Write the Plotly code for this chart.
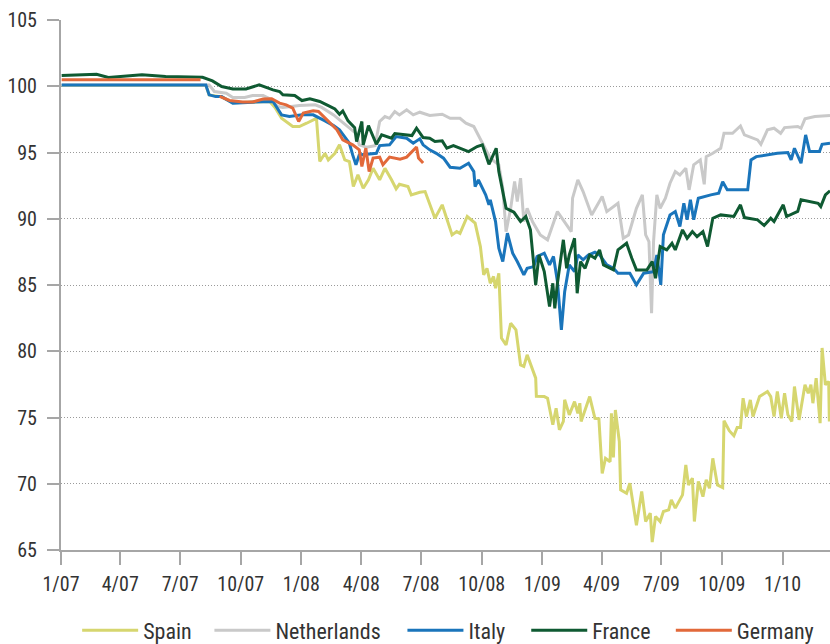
import plotly.graph_objects as go

# ---- data (index) ----
spain = [
    ("2007-01-02", 100.05), ("2007-08-09", 100.05), ("2007-08-14", 99.35), ("2007-09-02", 99.2),
    ("2007-09-19", 98.75), ("2007-10-19", 98.8), ("2007-11-14", 98.85), ("2007-11-22", 98.4),
    ("2007-12-02", 97.58), ("2007-12-19", 96.96), ("2007-12-29", 96.96), ("2008-01-09", 97.21),
    ("2008-01-24", 97.58), ("2008-01-29", 94.32), ("2008-02-06", 94.94), ("2008-02-11", 94.44),
    ("2008-02-21", 94.94), ("2008-02-28", 95.58), ("2008-03-07", 94.44), ("2008-03-14", 94.32),
    ("2008-03-20", 92.43), ("2008-03-27", 93.31), ("2008-04-04", 92.3), ("2008-04-12", 92.94),
    ("2008-04-19", 93.81), ("2008-04-29", 92.94), ("2008-05-07", 93.81), ("2008-05-17", 92.94),
    ("2008-05-24", 92.26), ("2008-05-29", 92.6), ("2008-06-11", 92.43), ("2008-06-16", 91.8),
    ("2008-06-29", 92.0), ("2008-07-07", 92.05), ("2008-07-22", 90.04), ("2008-08-02", 91.05),
    ("2008-08-17", 88.78), ("2008-08-24", 89.03), ("2008-08-29", 88.9), ("2008-09-09", 90.17),
    ("2008-09-21", 89.67), ("2008-09-29", 87.9), ("2008-10-04", 85.76), ("2008-10-09", 86.26),
    ("2008-10-14", 85.13), ("2008-10-19", 85.64), ("2008-10-22", 84.76), ("2008-10-27", 85.89),
    ("2008-10-31", 81.0), ("2008-11-07", 80.48), ("2008-11-14", 82.11), ("2008-11-22", 81.61),
    ("2008-11-29", 78.97), ("2008-12-04", 78.85), ("2008-12-09", 79.73), ("2008-12-22", 77.97),
    ("2008-12-23", 76.6), ("2009-01-04", 76.58), ("2009-01-09", 76.46), ("2009-01-17", 74.45),
    ("2009-01-22", 75.7), ("2009-01-27", 74.07), ("2009-02-02", 74.7), ("2009-02-04", 76.34),
    ("2009-02-11", 75.2), ("2009-02-19", 76.2), ("2009-02-24", 75.32), ("2009-02-27", 76.08),
    ("2009-03-01", 74.7), ("2009-03-14", 76.58), ("2009-03-22", 74.94), ("2009-03-28", 74.9),
    ("2009-04-02", 70.78), ("2009-04-07", 71.92), ("2009-04-14", 71.66), ("2009-04-16", 75.32),
    ("2009-04-19", 71.98), ("2009-04-22", 75.57), ("2009-04-28", 73.18), ("2009-04-30", 69.54),
    ("2009-05-09", 69.28), ("2009-05-14", 70.04), ("2009-05-24", 66.87), ("2009-06-01", 69.41),
    ("2009-06-07", 67.15), ("2009-06-14", 67.78), ("2009-06-17", 65.59), ("2009-06-22", 67.53),
    ("2009-06-29", 67.15), ("2009-07-04", 67.91), ("2009-07-12", 68.03), ("2009-07-16", 68.79),
    ("2009-07-22", 68.16), ("2009-08-02", 69.16), ("2009-08-07", 71.42), ("2009-08-11", 69.91),
    ("2009-08-17", 70.42), ("2009-08-20", 67.15), ("2009-08-26", 70.17), ("2009-09-02", 69.03),
    ("2009-09-07", 70.29), ("2009-09-12", 69.66), ("2009-09-17", 71.92), ("2009-09-24", 69.91),
    ("2009-10-02", 69.71), ("2009-10-04", 74.76), ("2009-10-12", 74.0), ("2009-10-19", 73.62),
    ("2009-10-24", 74.25), ("2009-10-29", 74.25), ("2009-11-02", 76.46), ("2009-11-07", 75.07),
    ("2009-11-13", 76.33), ("2009-11-17", 75.07), ("2009-11-27", 76.58), ("2009-12-09", 76.96),
    ("2009-12-14", 76.58), ("2009-12-19", 75.07), ("2009-12-24", 76.96), ("2009-12-30", 74.94),
    ("2010-01-04", 76.83), ("2010-01-09", 75.2), ("2010-01-15", 74.7), ("2010-01-19", 77.34),
    ("2010-01-26", 74.82), ("2010-02-04", 77.47), ("2010-02-09", 76.83), ("2010-02-13", 77.47),
    ("2010-02-16", 76.08), ("2010-02-21", 77.97), ("2010-02-27", 74.57), ("2010-03-02", 80.25),
    ("2010-03-07", 77.47), ("2010-03-12", 77.72), ("2010-03-13", 74.7),
]

netherlands = [
    ("2007-01-02", 100.1), ("2007-08-14", 100.1), ("2007-08-22", 99.6), ("2007-09-09", 99.47),
    ("2007-09-19", 99.15), ("2007-10-07", 99.15), ("2007-10-19", 99.3), ("2007-11-04", 99.3),
    ("2007-11-14", 99.05), ("2007-11-26", 98.47), ("2007-12-04", 98.4), ("2007-12-29", 98.54),
    ("2008-01-22", 98.6), ("2008-02-01", 98.4), ("2008-02-19", 97.84), ("2008-03-09", 97.09),
    ("2008-03-24", 96.45), ("2008-03-29", 95.58), ("2008-04-09", 95.4), ("2008-04-22", 95.52),
    ("2008-04-29", 97.34), ("2008-05-07", 97.71), ("2008-05-14", 97.58), ("2008-05-22", 98.09),
    ("2008-05-29", 97.84), ("2008-06-09", 98.22), ("2008-06-19", 97.84), ("2008-06-29", 98.04),
    ("2008-07-14", 97.79), ("2008-08-02", 97.89), ("2008-08-14", 97.58), ("2008-08-29", 97.58),
    ("2008-09-07", 97.21), ("2008-09-19", 96.96), ("2008-10-02", 95.7), ("2008-10-14", 94.57),
    ("2008-10-27", 94.07), ("2008-11-02", 92.3), ("2008-11-07", 89.03), ("2008-11-14", 90.79),
    ("2008-11-20", 92.81), ("2008-11-24", 91.3), ("2008-11-29", 93.06), ("2008-12-04", 89.79),
    ("2008-12-09", 90.79), ("2008-12-17", 89.79), ("2008-12-29", 88.78), ("2009-01-09", 88.41),
    ("2009-01-24", 90.54), ("2009-02-04", 89.79), ("2009-02-14", 89.03), ("2009-02-16", 91.55),
    ("2009-02-24", 92.94), ("2009-03-04", 92.05), ("2009-03-17", 90.29), ("2009-04-02", 91.68),
    ("2009-04-09", 90.54), ("2009-04-26", 91.17), ("2009-05-04", 88.53), ("2009-05-12", 88.78),
    ("2009-05-24", 90.79), ("2009-06-02", 91.8), ("2009-06-07", 88.78), ("2009-06-12", 88.28),
    ("2009-06-16", 82.87), ("2009-06-19", 88.28), ("2009-06-24", 91.8), ("2009-06-29", 90.79),
    ("2009-07-07", 91.55), ("2009-07-14", 92.68), ("2009-07-22", 93.56), ("2009-07-29", 93.31),
    ("2009-08-07", 93.81), ("2009-08-12", 92.18), ("2009-08-19", 94.07), ("2009-08-29", 94.44),
    ("2009-09-04", 92.6), ("2009-09-07", 94.69), ("2009-09-17", 94.94), ("2009-09-29", 95.32),
    ("2009-10-04", 96.45), ("2009-10-17", 96.45), ("2009-10-29", 97.0), ("2009-11-04", 96.33),
    ("2009-11-24", 95.95), ("2009-11-29", 95.62), ("2009-12-09", 96.71), ("2009-12-19", 96.83),
    ("2009-12-29", 96.45), ("2010-01-04", 96.88), ("2010-01-24", 96.96), ("2010-01-29", 96.83),
    ("2010-02-04", 97.54), ("2010-02-19", 97.71), ("2010-03-14", 97.79),
]

italy = [
    ("2007-01-02", 100.1), ("2007-08-09", 100.1), ("2007-08-14", 99.35), ("2007-08-24", 99.22),
    ("2007-09-02", 99.22), ("2007-09-14", 98.9), ("2007-09-19", 98.72), ("2007-10-19", 98.8),
    ("2007-11-12", 98.8), ("2007-11-19", 98.85), ("2007-12-02", 97.84), ("2007-12-14", 97.71),
    ("2008-01-02", 97.84), ("2008-01-19", 97.84), ("2008-02-06", 97.39), ("2008-02-19", 97.03),
    ("2008-02-28", 96.71), ("2008-03-14", 95.7), ("2008-03-19", 94.82), ("2008-03-24", 94.07),
    ("2008-03-29", 94.82), ("2008-04-09", 94.87), ("2008-04-24", 94.94), ("2008-04-29", 95.52),
    ("2008-05-14", 95.58), ("2008-05-24", 96.2), ("2008-06-09", 96.08), ("2008-06-19", 95.7),
    ("2008-06-29", 96.03), ("2008-07-04", 95.58), ("2008-07-14", 95.2), ("2008-07-24", 94.94),
    ("2008-08-04", 94.57), ("2008-08-14", 93.89), ("2008-08-29", 93.81), ("2008-09-11", 94.19),
    ("2008-09-19", 93.56), ("2008-09-21", 92.43), ("2008-09-26", 92.94), ("2008-10-07", 91.8),
    ("2008-10-12", 91.05), ("2008-10-14", 91.43), ("2008-10-22", 89.79), ("2008-10-27", 87.77),
    ("2008-11-02", 86.77), ("2008-11-09", 88.91), ("2008-11-17", 87.4), ("2008-11-24", 86.77),
    ("2008-11-29", 86.26), ("2008-12-04", 85.76), ("2008-12-09", 86.26), ("2008-12-19", 86.39),
    ("2008-12-24", 87.15), ("2009-01-04", 87.4), ("2009-01-12", 86.52), ("2009-01-18", 87.15),
    ("2009-01-24", 85.26), ("2009-01-30", 81.61), ("2009-02-04", 84.5), ("2009-02-11", 86.52),
    ("2009-02-19", 86.01), ("2009-02-24", 87.27), ("2009-03-04", 86.9), ("2009-03-12", 87.27),
    ("2009-03-22", 87.47), ("2009-03-29", 87.27), ("2009-04-09", 86.52), ("2009-04-19", 86.26),
    ("2009-04-26", 85.89), ("2009-05-14", 85.89), ("2009-05-24", 85.01), ("2009-06-04", 85.89),
    ("2009-06-19", 86.01), ("2009-06-24", 87.27), ("2009-06-30", 85.01), ("2009-07-04", 88.79),
    ("2009-07-14", 90.29), ("2009-07-22", 90.54), ("2009-07-29", 89.41), ("2009-08-04", 91.17),
    ("2009-08-09", 89.92), ("2009-08-14", 91.43), ("2009-08-19", 89.92), ("2009-08-26", 91.55),
    ("2009-09-14", 91.8), ("2009-09-26", 91.93), ("2009-10-02", 92.8), ("2009-10-09", 92.18),
    ("2009-11-09", 92.18), ("2009-11-14", 94.44), ("2009-11-22", 94.69), ("2009-12-24", 94.94),
    ("2010-01-09", 95.0), ("2010-01-14", 94.44), ("2010-01-19", 95.32), ("2010-01-29", 94.19),
    ("2010-02-05", 96.33), ("2010-02-11", 95.07), ("2010-02-26", 95.07), ("2010-03-02", 95.62),
    ("2010-03-14", 95.7),
]

france = [
    ("2007-01-02", 100.81), ("2007-02-24", 100.9), ("2007-03-14", 100.66), ("2007-05-04", 100.86),
    ("2007-06-09", 100.73), ("2007-08-04", 100.68), ("2007-08-19", 100.4), ("2007-09-02", 99.98),
    ("2007-09-19", 99.8), ("2007-10-09", 99.8), ("2007-10-29", 100.1), ("2007-11-09", 99.9),
    ("2007-11-19", 99.73), ("2007-11-29", 99.6), ("2007-12-04", 99.35), ("2007-12-22", 99.3),
    ("2008-01-02", 98.92), ("2008-01-14", 99.05), ("2008-01-29", 98.85), ("2008-02-11", 98.54),
    ("2008-02-21", 98.29), ("2008-02-28", 97.89), ("2008-03-04", 98.14), ("2008-03-12", 97.39),
    ("2008-03-22", 96.88), ("2008-03-25", 95.83), ("2008-04-02", 97.34), ("2008-04-04", 95.58),
    ("2008-04-12", 97.03), ("2008-04-24", 95.62), ("2008-05-02", 96.33), ("2008-05-17", 96.08),
    ("2008-05-22", 96.43), ("2008-06-17", 96.28), ("2008-06-24", 96.83), ("2008-07-04", 96.13),
    ("2008-07-14", 96.08), ("2008-07-22", 95.83), ("2008-08-02", 95.88), ("2008-08-09", 95.32),
    ("2008-08-19", 95.52), ("2008-09-11", 95.07), ("2008-09-24", 95.45), ("2008-10-02", 95.58),
    ("2008-10-12", 94.11), ("2008-10-23", 95.32), ("2008-10-27", 93.56), ("2008-11-07", 90.79),
    ("2008-11-19", 90.49), ("2008-11-29", 89.79), ("2008-12-07", 90.17), ("2008-12-14", 89.16),
    ("2008-12-22", 85.0), ("2008-12-27", 87.27), ("2009-01-04", 86.01), ("2009-01-12", 83.37),
    ("2009-01-17", 85.13), ("2009-01-20", 83.24), ("2009-01-24", 85.13), ("2009-02-02", 88.41),
    ("2009-02-07", 86.26), ("2009-02-11", 87.27), ("2009-02-19", 88.53), ("2009-02-23", 84.38),
    ("2009-02-28", 86.77), ("2009-03-07", 86.26), ("2009-03-14", 87.27), ("2009-03-22", 87.02),
    ("2009-03-29", 87.65), ("2009-04-04", 86.52), ("2009-04-19", 86.14), ("2009-04-26", 87.65),
    ("2009-05-09", 88.15), ("2009-05-17", 87.02), ("2009-05-24", 86.14), ("2009-06-09", 86.14),
    ("2009-06-17", 86.77), ("2009-06-22", 85.51), ("2009-06-29", 87.9), ("2009-07-09", 87.65),
    ("2009-07-17", 88.15), ("2009-07-22", 87.65), ("2009-08-02", 89.16), ("2009-08-09", 88.53),
    ("2009-08-17", 89.03), ("2009-08-24", 88.65), ("2009-09-02", 89.03), ("2009-09-09", 87.9),
    ("2009-09-17", 90.04), ("2009-09-29", 90.29), ("2009-10-19", 90.17), ("2009-10-29", 91.05),
    ("2009-11-04", 90.09), ("2009-11-24", 89.92), ("2009-12-04", 89.49), ("2009-12-14", 90.04),
    ("2009-12-19", 89.79), ("2010-01-02", 91.05), ("2010-01-07", 90.17), ("2010-01-24", 90.55),
    ("2010-01-29", 91.43), ("2010-02-24", 91.17), ("2010-02-28", 90.92), ("2010-03-07", 91.8),
    ("2010-03-14", 92.11),
]

germany = [
    ("2007-01-02", 100.5), ("2007-08-01", 100.5), ("2007-08-15", None),
    ("2007-08-30", 99.23), ("2007-09-14", 98.93), ("2007-10-04", 98.81), ("2007-10-19", 98.81),
    ("2007-11-04", 99.03), ("2007-11-17", 99.06), ("2007-11-29", 98.73), ("2007-12-09", 98.6),
    ("2007-12-19", 98.35), ("2007-12-28", 97.34), ("2008-01-04", 97.98), ("2008-01-19", 98.15),
    ("2008-01-27", 98.1), ("2008-02-09", 97.47), ("2008-02-24", 96.72), ("2008-03-04", 95.96),
    ("2008-03-19", 95.58), ("2008-03-29", 95.2), ("2008-04-02", 93.94), ("2008-04-08", 95.33),
    ("2008-04-13", 93.56), ("2008-04-19", 94.58), ("2008-04-29", 94.65), ("2008-05-04", 94.07),
    ("2008-05-14", 94.65), ("2008-05-30", 94.5), ("2008-06-09", 94.65), ("2008-06-24", 95.41),
    ("2008-06-27", 94.58), ("2008-07-04", 94.2),
]

tick_dates = ["2007-01-01", "2007-04-01", "2007-07-01", "2007-10-01", "2008-01-01", "2008-04-01",
              "2008-07-01", "2008-10-01", "2009-01-01", "2009-04-01", "2009-07-01", "2009-10-01",
              "2010-01-01"]
tick_labels = ["1/07", "4/07", "7/07", "10/07", "1/08", "4/08", "7/08", "10/08", "1/09", "4/09",
               "7/09", "10/09", "1/10"]
y_ticks = [65, 70, 75, 80, 85, 90, 95, 100, 105]

series = [
    ("Spain", spain, "#d6d66f"),
    ("Netherlands", netherlands, "#c9c9c9"),
    ("Italy", italy, "#1a75bb"),
    ("France", france, "#0f5a32"),
    ("Germany", germany, "#e2693a"),
]
# left edge (paper fraction) of each legend entry
legend_x = [0.021, 0.193, 0.444, 0.605, 0.793]

FONT = "Roboto Condensed, DejaVu Sans Condensed, sans-serif"
TXT = "#333333"

fig = go.Figure()
layout_legends = {}
for i, (name, data, color) in enumerate(series):
    key = "legend" if i == 0 else f"legend{i + 1}"
    fig.add_trace(go.Scatter(
        x=[d for d, _ in data], y=[v for _, v in data], name=name, mode="lines",
        line=dict(color=color, width=3), connectgaps=False, legend=key,
    ))
    layout_legends[key] = dict(
        orientation="h", x=legend_x[i], xanchor="left", y=-0.152, yanchor="middle",
        font=dict(family=FONT, size=22, color=TXT), itemwidth=56,
        bgcolor="rgba(0,0,0,0)", borderwidth=0,
    )

fig.update_layout(
    width=830, height=644,
    margin=dict(l=61, r=0, t=20, b=94, autoexpand=False),
    paper_bgcolor="white", plot_bgcolor="white",
    font=dict(family=FONT, color=TXT, size=20),
    showlegend=True,
    **layout_legends,
)
fig.update_xaxes(
    type="date", range=["2007-01-01", "2010-03-14"],
    tickvals=tick_dates, ticktext=tick_labels,
    showgrid=False, zeroline=False, automargin=False,
    showline=True, linecolor="#a6a6a6", linewidth=2,
    ticks="outside", ticklen=13, tickcolor="#a6a6a6", tickwidth=2,
    tickfont=dict(family=FONT, size=20, color=TXT), ticklabelstandoff=2,
)
fig.update_yaxes(
    range=[65, 105], tickvals=y_ticks,
    showgrid=True, gridcolor="#9a9a9a", griddash="1px,2px", gridwidth=1,
    zeroline=False, automargin=False,
    showline=True, linecolor="#a6a6a6", linewidth=2,
    ticks="outside", ticklen=12, tickcolor="#a6a6a6", tickwidth=2,
    tickfont=dict(family=FONT, size=20, color=TXT), ticklabelstandoff=6,
)

fig.write_html(
    "out.html",
    config={"displayModeBar": False},
    post_script="document.body.style.margin='0px';document.body.style.overflow='hidden';",
)
